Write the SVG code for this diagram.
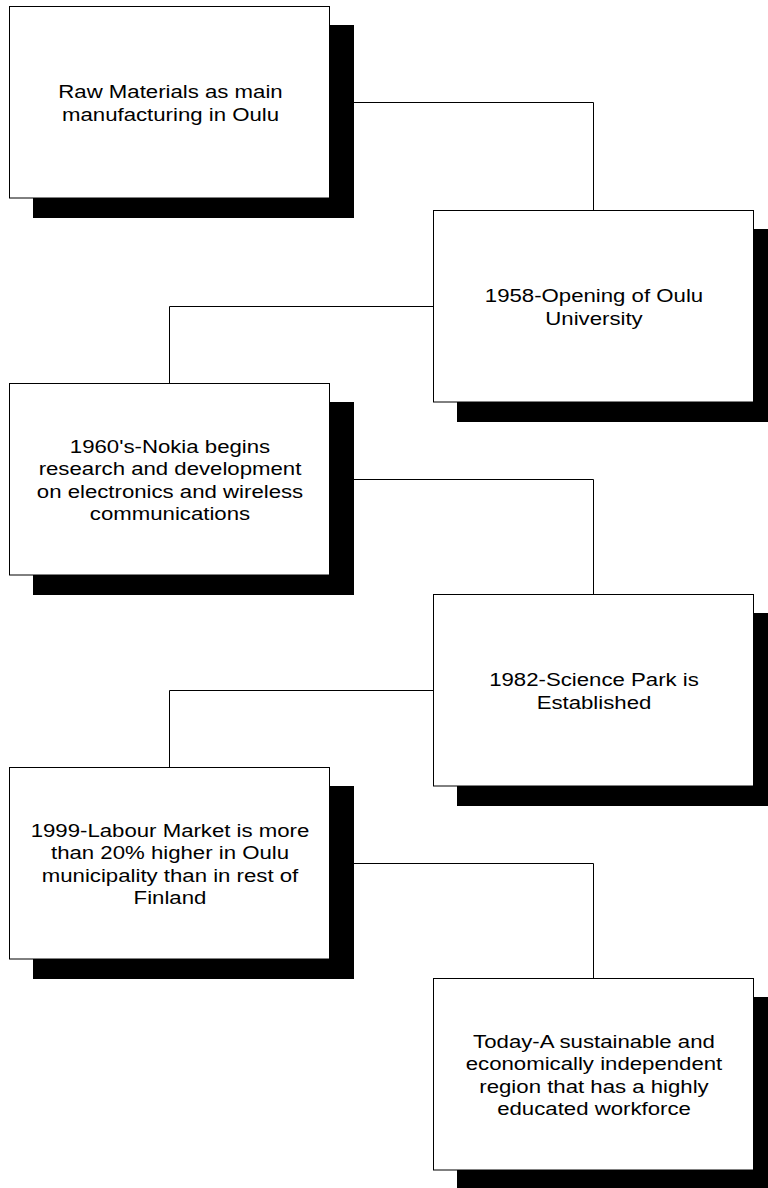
<svg xmlns="http://www.w3.org/2000/svg" width="768" height="1188" viewBox="0 0 768 1188">
<style>
.shadow{fill:#000;}
.box{fill:#fff;stroke:#000;stroke-width:1;}
.conn{fill:none;stroke:#000;stroke-width:1;}
.t{font-family:"Liberation Sans",Arial,sans-serif;font-size:18.5px;fill:#000;text-anchor:middle;}
</style>
<rect width="768" height="1188" fill="#fff"/>
<g id="connectors">
<path class="conn" d="M353 102.5 H593.5 V210.5"/>
<path class="conn" d="M433.5 306.5 H169.5 V383.5"/>
<path class="conn" d="M353 479.5 H593.5 V594.5"/>
<path class="conn" d="M433.5 690.5 H169.5 V767.5"/>
<path class="conn" d="M353 863.5 H593.5 V978.5"/>
</g>
<g id="node1">
<rect class="shadow" x="33" y="25" width="321" height="193"/>
<rect class="box" x="9.5" y="6.5" width="320" height="191.5"/>
<g transform="matrix(1.2 0 0 1 170.5 0)">
<text class="t" x="0" y="98">Raw Materials as main</text>
<text class="t" x="0" y="120.6">manufacturing in Oulu</text>
</g>
</g>
<g id="node2">
<rect class="shadow" x="457" y="229" width="321" height="193"/>
<rect class="box" x="433.5" y="210.5" width="320" height="191.5"/>
<g transform="matrix(1.2 0 0 1 594 0)">
<text class="t" x="0" y="302">1958-Opening of Oulu</text>
<text class="t" x="0" y="324.6">University</text>
</g>
</g>
<g id="node3">
<rect class="shadow" x="33" y="402" width="321" height="193"/>
<rect class="box" x="9.5" y="383.5" width="320" height="191.5"/>
<g transform="matrix(1.2 0 0 1 170 0)">
<text class="t" x="0" y="452.6">1960's-Nokia begins</text>
<text class="t" x="0" y="475.2">research and development</text>
<text class="t" x="0" y="497.8">on electronics and wireless</text>
<text class="t" x="0" y="520.4">communications</text>
</g>
</g>
<g id="node4">
<rect class="shadow" x="457" y="613" width="321" height="193"/>
<rect class="box" x="433.5" y="594.5" width="320" height="191.5"/>
<g transform="matrix(1.2 0 0 1 594 0)">
<text class="t" x="0" y="686">1982-Science Park is</text>
<text class="t" x="0" y="708.6">Established</text>
</g>
</g>
<g id="node5">
<rect class="shadow" x="33" y="786" width="321" height="193"/>
<rect class="box" x="9.5" y="767.5" width="320" height="191.5"/>
<g transform="matrix(1.2 0 0 1 170 0)">
<text class="t" x="0" y="836.6">1999-Labour Market is more</text>
<text class="t" x="0" y="859.2">than 20% higher in Oulu</text>
<text class="t" x="0" y="881.8">municipality than in rest of</text>
<text class="t" x="0" y="904.4">Finland</text>
</g>
</g>
<g id="node6">
<rect class="shadow" x="457" y="997" width="321" height="193"/>
<rect class="box" x="433.5" y="978.5" width="320" height="191.5"/>
<g transform="matrix(1.2 0 0 1 594 0)">
<text class="t" x="0" y="1047.6">Today-A sustainable and</text>
<text class="t" x="0" y="1070.2">economically independent</text>
<text class="t" x="0" y="1092.8">region that has a highly</text>
<text class="t" x="0" y="1115.4">educated workforce</text>
</g>
</g>
</svg>
